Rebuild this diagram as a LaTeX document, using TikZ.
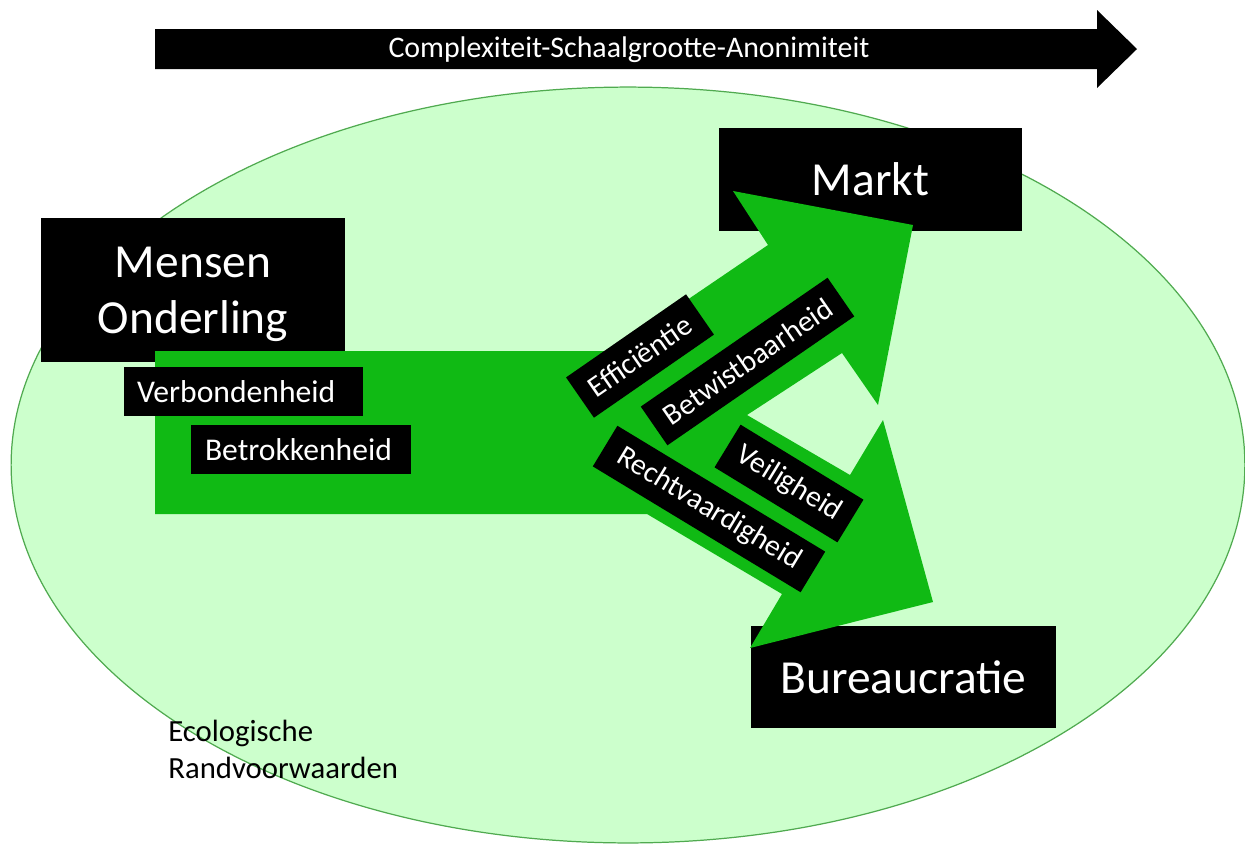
\documentclass[tikz,border=0pt]{standalone}
\usepackage{fontspec}
\setmainfont{Carlito}
\usepackage{tikz}
\usetikzlibrary{positioning}
\definecolor{mlight}{RGB}{204,255,204}
\definecolor{mgreen}{RGB}{16,186,20}
\definecolor{mrim}{RGB}{80,170,80}
\tikzset{bigbox/.style = {fill=black, text=white, align=center, inner sep=0pt, text depth=0pt,
                          font=\fontsize{27}{32}\selectfont},
         tagbox/.style = {fill=black, text=white, inner sep=0pt,
                          font=\fontsize{18}{21}\selectfont},
         tiltbox/.style = {tagbox, font=\fontsize{17}{20}\selectfont}}

\begin{document}
\begin{tikzpicture}[x=0.02cm, y=-0.02cm]
    \useasboundingbox (0,0) rectangle (1245,843);
    \draw [fill=mlight, draw=mrim, line width=0.7pt] (628,465) ellipse [x radius=12.34cm, y radius=7.56cm];

    \fill (155,29) -- (1097,29) -- (1097,10) -- (1137,49) -- (1097,88) -- (1097,69) -- (155,69) -- cycle;
    \node [text=white, font=\fontsize{17}{20}\selectfont] (axis) at (629,50) {Complexiteit-Schaalgrootte-Anonimiteit};

    \node [bigbox, minimum width=6.08cm, minimum height=2.88cm] (mensen) at (193,290) {Mensen\\Onderling};
    \node [bigbox, minimum width=6.06cm, minimum height=2.06cm] (markt) at (870.5,179.5) {Markt};
    \node [bigbox, minimum width=6.1cm, minimum height=2.04cm] (bureau) at (903.5,677) {Bureaucratie};

    % split arrow
    \fill [mgreen] (155,351) -- (612,351) -- (768,245) -- (733,191) -- (913,225) -- (878,405) -- (842,353)
                -- (747,415) -- (850,475) -- (883,420) -- (933,602) -- (750,648) -- (782,594)
                -- (647,514) -- (155,514) -- cycle;

    \node [tagbox, text width=4.26cm, inner xsep=0.26cm, minimum height=0.98cm] (verbond) at (243.5,391.5) {Verbondenheid};
    \node [tagbox, text width=3.84cm, inner xsep=0.28cm, minimum height=0.98cm] (betrok) at (301,449.5) {Betrokkenheid};
    \node [tiltbox, minimum width=2.92cm, minimum height=0.98cm, rotate=34.7] (effic) at (640,356) {Efficiëntie};
    \node [tiltbox, minimum width=4.54cm, minimum height=0.94cm, rotate=34.6] (betwist) at (747.5,361.5) {Betwistbaarheid};
    \node [tiltbox, minimum width=4.86cm, minimum height=0.95cm, rotate=-31.2] (recht) at (709,509) {Rechtvaardigheid};
    \node [tiltbox, minimum width=2.88cm, minimum height=1cm, rotate=-31.4] (veilig) at (789,483.5) {Veiligheid};

    \node [anchor=north west, inner sep=0pt, align=left, font=\fontsize{17.5}{21}\selectfont] (eco) at (168,720)
          {Ecologische\\Randvoorwaarden};
\end{tikzpicture}
\end{document}
